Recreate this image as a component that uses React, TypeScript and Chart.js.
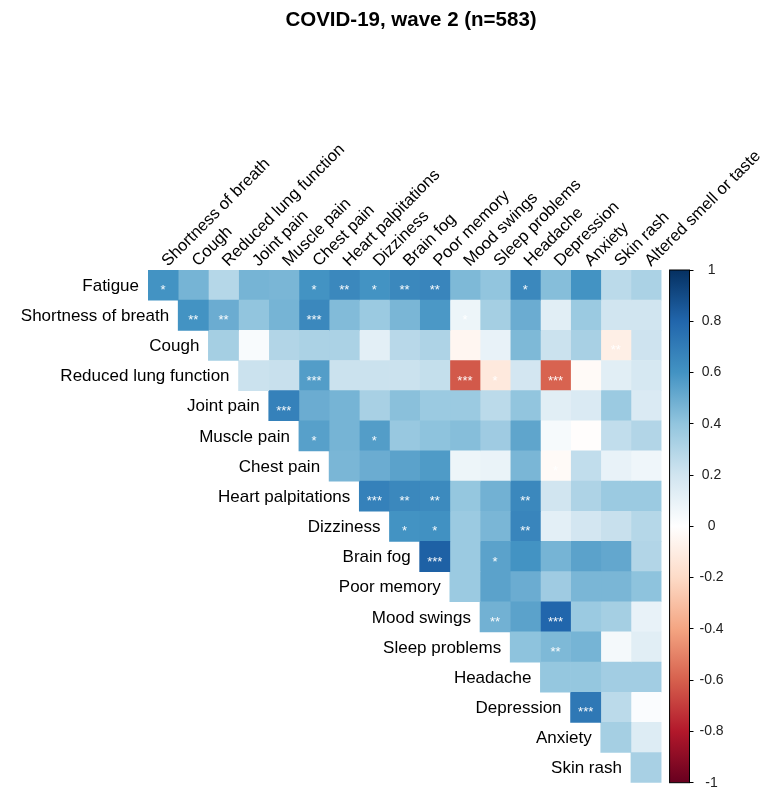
import React, { useEffect, useRef } from "react";
import { Chart, registerables } from "chart.js";

Chart.register(...registerables);

const FONT = "'Liberation Sans', Arial, Helvetica, sans-serif";

const chartTitle = "COVID-19, wave 2 (n=583)";

const rowLabels = [
  "Fatigue",
  "Shortness of breath",
  "Cough",
  "Reduced lung function",
  "Joint pain",
  "Muscle pain",
  "Chest pain",
  "Heart palpitations",
  "Dizziness",
  "Brain fog",
  "Poor memory",
  "Mood swings",
  "Sleep problems",
  "Headache",
  "Depression",
  "Anxiety",
  "Skin rash",
];

const colLabels = [
  "Shortness of breath",
  "Cough",
  "Reduced lung function",
  "Joint pain",
  "Muscle pain",
  "Chest pain",
  "Heart palpitations",
  "Dizziness",
  "Brain fog",
  "Poor memory",
  "Mood swings",
  "Sleep problems",
  "Headache",
  "Depression",
  "Anxiety",
  "Skin rash",
  "Altered smell or taste",
];

// correlation values per row, starting at the diagonal column
const rFatigue = [0.6, 0.47, 0.29, 0.47, 0.46, 0.6, 0.65, 0.6, 0.65, 0.66, 0.45, 0.4, 0.65, 0.43, 0.6, 0.27, 0.32];
const rShortness = [0.6, 0.5, 0.4, 0.47, 0.65, 0.44, 0.37, 0.46, 0.58, 0.08, 0.34, 0.5, 0.13, 0.37, 0.2, 0.2];
const rCough = [0.34, 0.03, 0.3, 0.32, 0.32, 0.12, 0.28, 0.31, -0.05, 0.1, 0.45, 0.22, 0.33, -0.09, 0.21];
const rLung = [0.22, 0.23, 0.56, 0.22, 0.22, 0.22, 0.24, -0.62, -0.12, 0.19, -0.59, -0.03, 0.13, 0.18];
const rJoint = [0.68, 0.5, 0.47, 0.33, 0.42, 0.37, 0.37, 0.27, 0.4, 0.13, 0.16, 0.37, 0.16];
const rMuscle = [0.55, 0.47, 0.56, 0.38, 0.41, 0.43, 0.36, 0.53, 0.04, -0.01, 0.25, 0.3];
const rChest = [0.46, 0.5, 0.54, 0.57, 0.08, 0.09, 0.46, -0.03, 0.25, 0.1, 0.07];
const rPalpitations = [0.68, 0.65, 0.64, 0.39, 0.48, 0.65, 0.2, 0.31, 0.37, 0.37];
const rDizziness = [0.6, 0.61, 0.37, 0.46, 0.66, 0.12, 0.19, 0.23, 0.29];
const rBrainFog = [0.82, 0.37, 0.54, 0.6, 0.47, 0.54, 0.52, 0.3];
const rMemory = [0.37, 0.54, 0.5, 0.36, 0.46, 0.46, 0.41];
const rMood = [0.48, 0.54, 0.8, 0.37, 0.34, 0.1];
const rSleep = [0.41, 0.45, 0.47, 0.05, 0.13];
const rHeadache = [0.39, 0.39, 0.35, 0.35];
const rDepression = [0.72, 0.27, 0.02];
const rAnxiety = [0.34, 0.15];
const rSkin = [0.33];

// significance stars per row, starting at the diagonal column
const sFatigue = ["*", "", "", "", "", "*", "**", "*", "**", "**", "", "", "*", "", "", "", ""];
const sShortness = ["**", "**", "", "", "***", "", "", "", "", "*", "", "", "", "", "", ""];
const sCough = ["", "", "", "", "", "", "", "", "", "", "", "", "", "**", ""];
const sLung = ["", "", "***", "", "", "", "", "***", "*", "", "***", "", "", ""];
const sJoint = ["***", "", "", "", "", "", "", "", "", "", "", "", ""];
const sMuscle = ["*", "", "*", "", "", "", "", "", "", "", "", ""];
const sChest = ["", "", "", "", "", "", "", "*", "", "", ""];
const sPalpitations = ["***", "**", "**", "", "", "**", "", "", "", ""];
const sDizziness = ["*", "*", "", "", "**", "", "", "", ""];
const sBrainFog = ["***", "", "*", "", "", "", "", ""];
const sMemory = ["", "", "", "", "", "", ""];
const sMood = ["**", "", "***", "", "", ""];
const sSleep = ["", "**", "", "", ""];
const sHeadache = ["", "", "", ""];
const sDepression = ["***", "", ""];
const sAnxiety = ["", ""];
const sSkin = [""];

const corrRows = [
  rFatigue, rShortness, rCough, rLung, rJoint, rMuscle, rChest, rPalpitations,
  rDizziness, rBrainFog, rMemory, rMood, rSleep, rHeadache, rDepression, rAnxiety, rSkin,
];
const starRows = [
  sFatigue, sShortness, sCough, sLung, sJoint, sMuscle, sChest, sPalpitations,
  sDizziness, sBrainFog, sMemory, sMood, sSleep, sHeadache, sDepression, sAnxiety, sSkin,
];

const palette = [
  "#67001F", "#B2182B", "#D6604D", "#F4A582", "#FDDBC7", "#FFFFFF",
  "#D1E5F0", "#92C5DE", "#4393C3", "#2166AC", "#053061",
];

function hexToRgb(h: string): number[] {
  const n = parseInt(h.slice(1), 16);
  return [(n >> 16) & 255, (n >> 8) & 255, n & 255];
}

function corrColor(v: number): string {
  const c = Math.max(-1, Math.min(1, v));
  const t = ((c + 1) / 2) * (palette.length - 1);
  const i = Math.min(Math.floor(t), palette.length - 2);
  const f = t - i;
  const a = hexToRgb(palette[i]);
  const b = hexToRgb(palette[i + 1]);
  const m = a.map((x, k) => Math.round(x + (b[k] - x) * f));
  return `rgb(${m[0]},${m[1]},${m[2]})`;
}

const nCols = colLabels.length;
const colorbarFrom = nCols + 0.28;
const xMax = nCols + 0.94;

function cellValue(i: number, j: number): number | null {
  if (j < i) return null;
  return corrRows[i][j - i];
}

const heatPlugin = {
  id: "heatText",
  afterDraw(chart: any) {
    const ctx = chart.ctx as CanvasRenderingContext2D;
    const xs = chart.scales.x;
    const ys = chart.scales.y;
    const cb = chart.scales.cb;
    const area = chart.chartArea;

    ctx.save();
    // stars
    ctx.fillStyle = "rgba(255,255,255,0.95)";
    ctx.font = `13px ${FONT}`;
    ctx.textAlign = "center";
    ctx.textBaseline = "alphabetic";
    for (let i = 0; i < rowLabels.length; i++) {
      for (let j = i; j < nCols; j++) {
        const s = starRows[i][j - i];
        if (!s) continue;
        const cx = xs.getPixelForValue(j + 0.5);
        const cy = ys.getPixelForValue(i);
        ctx.fillText(s, cx, cy + 9);
      }
    }

    // row labels along the diagonal
    ctx.fillStyle = "#000";
    ctx.font = `17px ${FONT}`;
    ctx.textAlign = "right";
    ctx.textBaseline = "middle";
    for (let i = 0; i < rowLabels.length; i++) {
      ctx.fillText(rowLabels[i], xs.getPixelForValue(i) - 9, ys.getPixelForValue(i) + 1);
    }

    // column labels rotated 45 degrees
    ctx.font = `16.6px ${FONT}`;
    ctx.textAlign = "left";
    ctx.textBaseline = "alphabetic";
    for (let j = 0; j < nCols; j++) {
      const cx = xs.getPixelForValue(j + 0.5);
      ctx.save();
      ctx.translate(cx + 5, area.top - 3);
      ctx.rotate(-Math.PI / 4);
      ctx.fillText(colLabels[j], 0, 0);
      ctx.restore();
    }

    // colour bar
    const x0 = xs.getPixelForValue(colorbarFrom);
    const x1 = xs.getPixelForValue(xMax);
    const yTop = cb.getPixelForValue(1);
    const yBot = cb.getPixelForValue(-1);
    const grad = ctx.createLinearGradient(0, yBot, 0, yTop);
    palette.forEach((c, k) => grad.addColorStop(k / (palette.length - 1), c));
    ctx.fillStyle = grad;
    ctx.fillRect(x0, yTop, x1 - x0, yBot - yTop);
    ctx.strokeStyle = "#000";
    ctx.lineWidth = 1;
    ctx.strokeRect(x0, yTop, x1 - x0, yBot - yTop);

    // title
    ctx.fillStyle = "#000";
    ctx.font = `bold 20.5px ${FONT}`;
    ctx.textAlign = "center";
    ctx.textBaseline = "middle";
    ctx.fillText(chartTitle, 411, 20);
    ctx.restore();
  },
};

export default function App() {
  const ref = useRef<HTMLCanvasElement | null>(null);

  useEffect(() => {
    if (!ref.current) return;
    const datasets = colLabels.map((name, j) => ({
      label: name,
      data: rowLabels.map((_, i) => (j >= i ? [j, j + 1] : null)),
      backgroundColor: rowLabels.map((_, i) => {
        const v = cellValue(i, j);
        return v === null ? "rgba(0,0,0,0)" : corrColor(v);
      }),
      borderWidth: 0,
      barPercentage: 1,
      categoryPercentage: 1,
      grouped: false,
    }));

    const chart = new Chart(ref.current, {
      type: "bar",
      data: { labels: rowLabels, datasets: datasets as any },
      options: {
        indexAxis: "y",
        animation: false,
        responsive: true,
        maintainAspectRatio: false,
        layout: { padding: { left: 148, top: 270, right: 0, bottom: 17.3 } },
        plugins: {
          legend: { display: false },
          tooltip: { enabled: false },
          title: { display: false },
        },
        scales: {
          x: { type: "linear", min: 0, max: xMax, display: false },
          y: { type: "category", display: false, offset: true },
          cb: {
            type: "linear",
            axis: "y",
            position: "right",
            min: -1,
            max: 1,
            offset: false,
            ticks: {
              stepSize: 0.2,
              padding: 6,
              crossAlign: "center",
              color: "#222",
              font: { size: 14, family: FONT },
              callback: (v: any) => String(Math.round(Number(v) * 10) / 10),
            },
            grid: {
              offset: false,
              drawOnChartArea: false,
              drawTicks: true,
              tickLength: 4,
              color: "#000",
              lineWidth: 1,
            },
            border: { display: true, color: "#000" },
            afterFit: (s: any) => {
              s.width = 74.5;
            },
          } as any,
        },
      },
      plugins: [heatPlugin],
    });
    return () => chart.destroy();
  }, []);

  return (
    <div style={{ position: "fixed", left: 0, top: 0, width: 764, height: 789, overflow: "hidden", background: "#fff" }}>
      <div style={{ position: "relative", width: 764, height: 800 }}>
        <canvas ref={ref} />
      </div>
    </div>
  );
}
